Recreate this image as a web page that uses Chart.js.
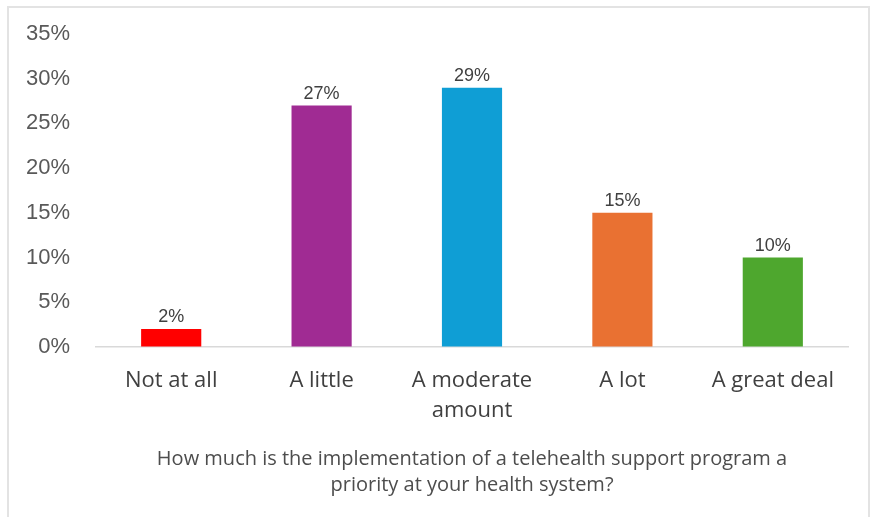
<!DOCTYPE html>
<html>
<head>
<meta charset="utf-8">
<script src="https://cdn.jsdelivr.net/npm/chart.js@4"></script>
<style>
  html, body { margin: 0; padding: 0; background: #fff; }
  #wrap { position: relative; width: 875px; height: 517px; }
  #frame { position: absolute; left: 7px; top: 6px; width: 863px; height: 530px; border: 2px solid #e3e3e3; box-sizing: border-box; pointer-events: none; }
</style>
</head>
<body>
<div id="wrap">
  <canvas id="priorityChart" width="875" height="517"></canvas>
  <div id="frame"></div>
</div>
<script>
// Survey answers and shares
const categories = ['Not at all', 'A little', ['A moderate', 'amount'], 'A lot', 'A great deal'];
const shares = [2, 27, 29, 15, 10];
const barColors = ['#FF0000', '#A02B93', '#0F9ED5', '#E97132', '#4EA72E'];
const yTicks = [0, 5, 10, 15, 20, 25, 30, 35];
const axisTitle = ['How much is the implementation of a telehealth support program a', 'priority at your health system?'];

// Function to draw the value labels above each bar
const valueLabels = {
    id: 'valueLabels',
    afterDatasetsDraw(chart) {
        const ctx = chart.ctx;
        const meta = chart.getDatasetMeta(0);
        ctx.save();
        ctx.font = '18px "Liberation Sans", Arial, sans-serif';
        ctx.fillStyle = '#404040';
        ctx.textAlign = 'center';
        ctx.textBaseline = 'bottom';
        meta.data.forEach((bar, i) => {
            ctx.fillText(shares[i] + '%', bar.x, bar.y - 3);
        });
        ctx.restore();
    }
};

const ctx = document.getElementById('priorityChart').getContext('2d');
new Chart(ctx, {
    type: 'bar',
    data: {
        labels: categories,
        datasets: [{
            data: shares,
            backgroundColor: barColors,
            categoryPercentage: 1,
            barPercentage: 0.4
        }]
    },
    options: {
        responsive: false,
        animation: false,
        layout: {
            padding: { top: 34, right: 27, left: 0, bottom: 0 }
        },
        plugins: {
            legend: { display: false },
            tooltip: { enabled: false }
        },
        scales: {
            y: {
                min: 0,
                max: 35,
                afterBuildTicks: scale => {
                    scale.ticks = yTicks.map(v => ({ value: v }));
                },
                afterFit: scale => { scale.width = 96; },
                // invisible tick marks push the labels left without adding top padding
                grid: { display: true, drawOnChartArea: false, color: 'transparent', tickLength: 18 },
                border: { display: false },
                ticks: {
                    padding: 8,
                    color: '#595959',
                    font: { family: '"Liberation Sans", Arial, sans-serif', size: 22 },
                    callback: v => v + '%'
                }
            },
            x: {
                afterFit: scale => { scale.height = 170; },
                grid: { display: false, drawTicks: false },
                border: { display: true, color: '#d9d9d9', width: 1.5 },
                ticks: {
                    padding: 19,
                    color: '#404040',
                    maxRotation: 0,
                    font: { family: '"Open Sans", sans-serif', size: 22, lineHeight: 1.36 }
                },
                title: {
                    display: true,
                    text: axisTitle,
                    color: '#4d4d4d',
                    padding: { top: 0, bottom: 19 },
                    font: { family: '"Open Sans", sans-serif', size: 20, lineHeight: 1.3 }
                }
            }
        }
    },
    plugins: [valueLabels]
});
</script>
</body>
</html>
